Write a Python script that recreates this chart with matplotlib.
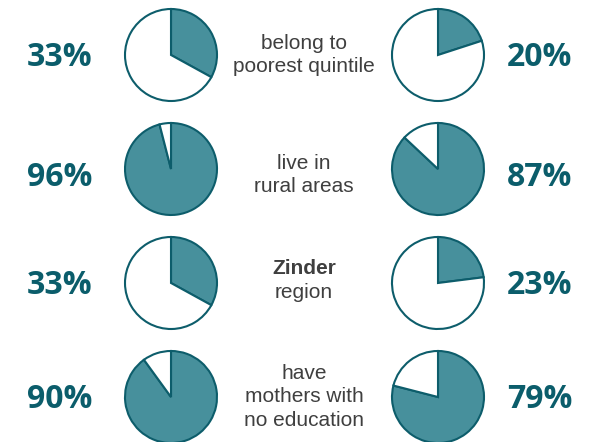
import matplotlib.pyplot as plt

# share of children, left group vs right group
left_vals = [33, 96, 33, 90]
right_vals = [20, 87, 23, 79]
# middle captions (bold first line only for the region row)
captions = [("", "belong to\npoorest quintile"),
            ("", "live in\nrural areas"),
            ("Zinder", "region"),
            ("", "have\nmothers with\nno education")]

W, H = 595, 442
fill_col = '#47909c'
edge_col = '#0d5d6b'
pct_col = '#0b5d6b'
txt_col = '#3f3f3f'

fig = plt.figure(figsize=(W / 100, H / 100), dpi=100)
ax = fig.add_axes([0, 0, 1, 1])

# pixel rows (from top) for pies, percents and captions
pie_y = [55, 169, 283, 397]
pct_y = [58, 177, 285, 400]
cap_y = [55, 175, 280, 397]
r = 46
for i in range(4):
    cy = H - pie_y[i]
    for cx, v, tx in [(171, left_vals[i], 60), (438, right_vals[i], 540)]:
        ax.pie([v, 100 - v], colors=[fill_col, 'white'], startangle=90, counterclock=False,
               center=(cx, cy), radius=r,
               wedgeprops=dict(edgecolor=edge_col, linewidth=1.5), frame=True)
        ax.text(tx, H - pct_y[i], '%i%%' % v, ha='center', va='center', fontsize=23,
                fontweight='bold', color=pct_col, family='Open Sans')
    bold, reg = captions[i]
    ty = H - cap_y[i]
    if bold:
        ax.text(304, ty + 12, bold, ha='center', va='center', fontsize=15,
                fontweight='bold', color=txt_col, family='Liberation Sans')
        ax.text(304, ty - 12, reg, ha='center', va='center', fontsize=15,
                color=txt_col, family='Liberation Sans')
    else:
        ax.text(304, ty, reg, ha='center', va='center', fontsize=15,
                color=txt_col, family='Liberation Sans', linespacing=1.32)

ax.set_xlim(0, W)
ax.set_ylim(0, H)
ax.set_aspect('equal')
ax.axis('off')
fig.savefig('out.png', dpi=100)
